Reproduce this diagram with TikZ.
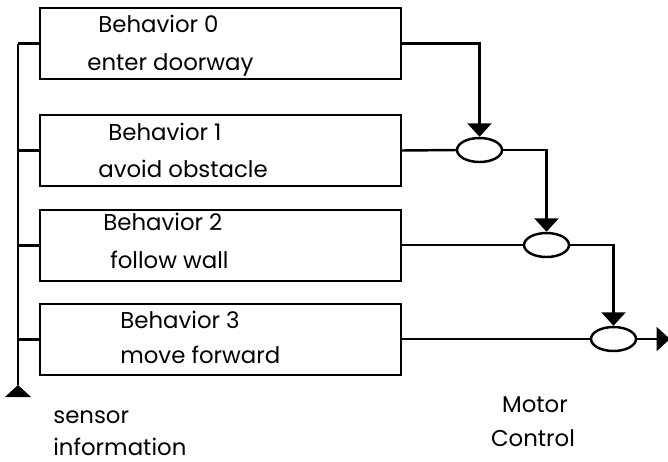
\documentclass[tikz,border=0pt]{standalone}
\usepackage{fontspec}
\setmainfont{Poppins}
\usetikzlibrary{arrows.meta,shapes.geometric}
\tikzset{
  behbox/.style={draw, line width=1.4pt, minimum width=7.22cm, minimum height=1.42cm, inner sep=0pt},
  mixer/.style={draw, ellipse, line width=1.4pt, minimum width=0.9cm, minimum height=0.48cm, inner sep=0pt},
  wire/.style={line width=1.4pt},
  flow/.style={wire, -{Triangle[width=0.48cm,length=0.27cm]}},
  txt/.style={anchor=base west, inner sep=0pt, font=\fontsize{13}{15}\selectfont}
}

\begin{document}
\begin{tikzpicture}[x=0.02cm, y=-0.02cm]
			%%%%% FRAME %%%%%
			\useasboundingbox (0,0) rectangle (668,461);
			
			%%%%% BEHAVIOURS %%%%%
			\node[behbox] (b0) at (220.5, 43.5) {};
			\node[behbox] (b1) at (220.5, 150.5) {};
			\node[behbox] (b2) at (220.5, 245.5) {};
			\node[behbox] (b3) at (220.5, 339.5) {};
			
			\node[txt] (b0name) at (98, 32) {Behavior 0};
			\node[txt] (b0task) at (87, 70) {enter doorway};
			\node[txt] (b1name) at (108, 140) {Behavior 1};
			\node[txt] (b1task) at (98, 177) {avoid obstacle};
			\node[txt] (b2name) at (103, 230) {Behavior 2};
			\node[txt] (b2task) at (110, 268) {follow wall};
			\node[txt] (b3name) at (120, 328) {Behavior 3};
			\node[txt] (b3task) at (120, 363) {move forward};
			
			%%%%% SENSOR BUS %%%%%
			\coordinate (bustop) at (18, 43.5);
			\coordinate (busbot) at (18, 385);
			\draw[wire] (bustop) -- (busbot);
			\foreach \b in {b0,b1,b2,b3}
				\draw[wire] (\b.west) -- (\b.west -| bustop);
			\fill (busbot) -- ++(-13, 12) -- ++(26, 0) -- cycle;
			
			\node[txt] (sensor) at (53, 423) {sensor};
			\node[txt] (info) at (53, 455) {information};
			
			%%%%% MOTOR SIDE %%%%%
			\node[mixer] (m1) at (479.5, 150) {};
			\node[mixer] (m2) at (546.5, 245) {};
			\node[mixer] (m3) at (613.5, 339) {};
			\coordinate (out) at (670, 339);
			
			\draw[flow] (b0.east) -| (m1.north);
			\draw[wire] (b1.east) -- (m1.west);
			\draw[flow] (m1.east) -| (m2.north);
			\draw[wire] (b2.east |- m2.west) -- (m2.west);
			\draw[flow] (m2.east) -| (m3.north);
			\draw[wire] (b3.east |- m3.west) -- (m3.west);
			\draw[flow] (m3.east) -- (out);
			
			\node[txt, anchor=base] (motor) at (535, 412) {Motor};
			\node[txt, anchor=base] (control) at (533, 446) {Control};
			
			%%%%% END %%%%%
\end{tikzpicture}
\end{document}
